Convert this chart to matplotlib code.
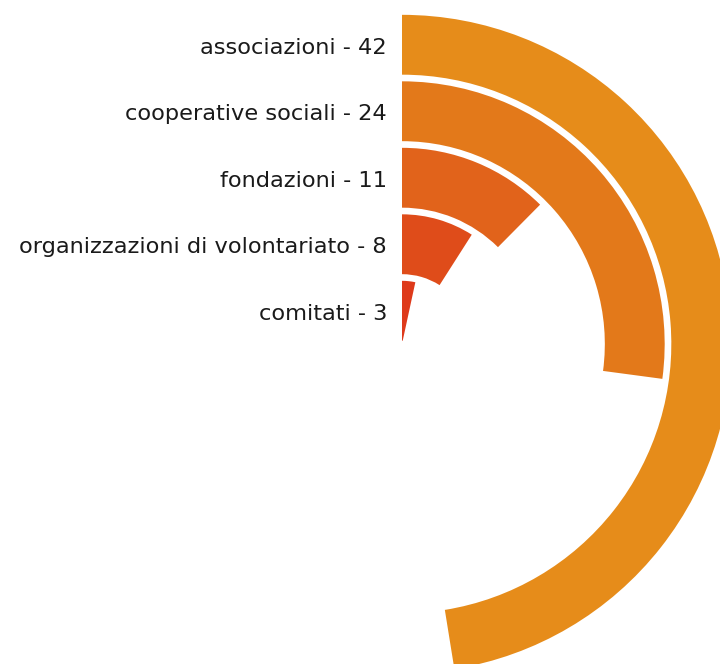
import numpy as np
from matplotlib import pyplot as plt

# categories from innermost to outermost ring
categories = ["comitati", "organizzazioni di volontariato", "fondazioni",
              "cooperative sociali", "associazioni"]
counts = [3, 8, 11, 24, 42]
colors = ["#de3a1b", "#df4c1a", "#e1631b", "#e3791a", "#e68c1a"]

# full circle corresponds to this value
angle_max = 88.5

# ring geometry in pixels
cx, cy = 402, 344
ring_px = 66.5

fig = plt.figure(figsize=(7.2, 6.64), dpi=100)
R = 5 * ring_px
ax = fig.add_axes([(cx - R) / 720, (664 - cy - R) / 664, 2 * R / 720, 2 * R / 664],
                  projection="polar")
ax.set_theta_zero_location("N")
ax.set_theta_direction(-1)

for i, (cat, n, col) in enumerate(zip(categories, counts, colors)):
    theta = 2 * np.pi * n / angle_max
    ax.bar(0, 0.9, width=theta, bottom=i + 0.05, align="edge",
           color=col, edgecolor="none")

ax.set_rlim(0, 5)
ax.set_axis_off()

# labels to the left of the rings' starting edge
for i, (cat, n) in enumerate(zip(categories, counts)):
    r = i + 0.5
    y_fig = (664 - cy - 3 + r * ring_px) / 664
    fig.text(387 / 720, y_fig, f"{cat} - {n}", ha="right", va="center",
             fontsize=16.2, color="#1a1a1a")

fig.savefig("out.png", dpi=100)
